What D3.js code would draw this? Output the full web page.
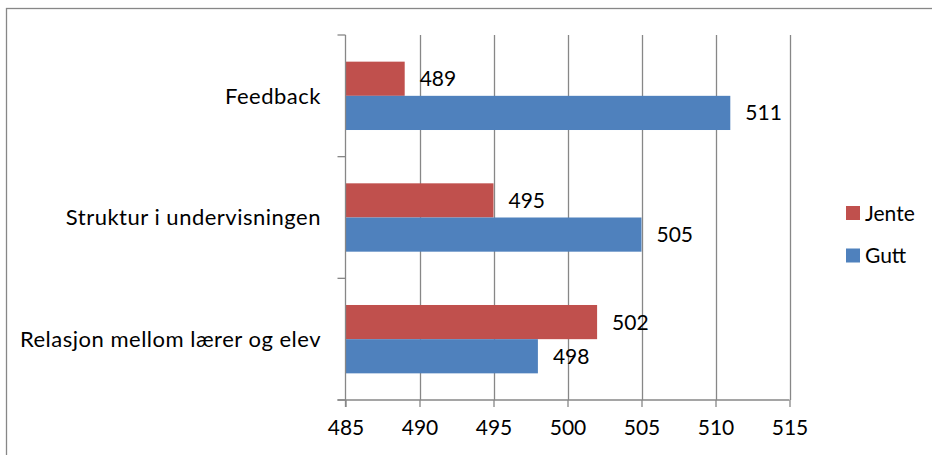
<!DOCTYPE html>
<html>
<head>
<meta charset="utf-8">
<script src="https://cdn.jsdelivr.net/npm/d3@7"></script>
<style>
  html, body { margin: 0; padding: 0; background: #fff; }
  svg { display: block; font-family: Lato, "Open Sans", sans-serif; }
</style>
</head>
<body>
<svg id="chart" width="932" height="455"></svg>
<script>
// Categories, top to bottom
const categories = ["Feedback", "Struktur i undervisningen", "Relasjon mellom lærer og elev"];
// Series (drawn in this order inside each category)
const seriesNames = ["Jente", "Gutt"];
const jente = [489, 495, 502];
const gutt = [511, 505, 498];
// Value axis ticks
const xTicks = [485, 490, 495, 500, 505, 510, 515];

const colors = { Jente: "#C0504D", Gutt: "#4F81BD" };
const values = { Jente: jente, Gutt: gutt };

const svg = d3.select("#chart");
const gridColor = "#878787";
const fontSize = 21;

// Chart area frame
svg.append("rect")
  .attr("x", 6.5).attr("y", 8.5)
  .attr("width", 1000).attr("height", 1000)
  .attr("fill", "none")
  .attr("stroke", gridColor)
  .attr("stroke-width", 1.3);

const plot = { left: 345.5, right: 789.5, top: 35, bottom: 400 };

const x = d3.scaleLinear()
  .domain([xTicks[0], xTicks[xTicks.length - 1]])
  .range([plot.left, plot.right]);

const y = d3.scaleBand()
  .domain(categories)
  .range([plot.top, plot.bottom])
  .paddingInner(0).paddingOuter(0);

const sub = d3.scaleBand()
  .domain(seriesNames)
  .range([0, y.bandwidth()])
  .paddingInner(0).paddingOuter(0.78);

// Vertical gridlines
svg.append("g")
  .selectAll("line")
  .data(xTicks.slice(1))
  .join("line")
  .attr("x1", d => Math.round(x(d)) + 0.5)
  .attr("x2", d => Math.round(x(d)) + 0.5)
  .attr("y1", plot.top)
  .attr("y2", plot.bottom)
  .attr("stroke", gridColor)
  .attr("stroke-width", 1.3);

// Bars
const rows = categories.map((c, i) => ({ cat: c, i }));
const barG = svg.append("g");
seriesNames.forEach(s => {
  barG.selectAll(null)
    .data(rows)
    .join("rect")
    .attr("x", x(xTicks[0]))
    .attr("y", d => y(d.cat) + sub(s))
    .attr("width", d => x(values[s][d.i]) - x(xTicks[0]))
    .attr("height", sub.bandwidth())
    .attr("fill", colors[s]);
});

// Value labels at bar ends
seriesNames.forEach(s => {
  svg.append("g")
    .selectAll("text")
    .data(rows)
    .join("text")
    .attr("x", d => x(values[s][d.i]) + 15)
    .attr("y", d => y(d.cat) + sub(s) + sub.bandwidth() / 2)
    .attr("dy", "0.36em")
    .attr("font-size", fontSize)
    .attr("fill", "#000")
    .text(d => values[s][d.i]);
});

// Value axis (bottom)
const xAxis = d3.axisBottom(x)
  .tickValues(xTicks)
  .tickSize(7)
  .tickPadding(13)
  .tickFormat(d3.format("d"));
const xg = svg.append("g")
  .attr("transform", `translate(0,${plot.bottom})`)
  .call(xAxis);
xg.select(".domain").remove();
xg.selectAll(".tick line").attr("stroke", gridColor).attr("stroke-width", 1.3);
xg.selectAll(".tick text")
  .attr("font-size", fontSize)
  .attr("font-family", "Lato, 'Open Sans', sans-serif")
  .attr("fill", "#000");

// Axis lines
svg.append("line")
  .attr("x1", plot.left - 8).attr("x2", plot.right)
  .attr("y1", plot.bottom).attr("y2", plot.bottom)
  .attr("stroke", gridColor).attr("stroke-width", 1.3);
svg.append("line")
  .attr("x1", plot.left).attr("x2", plot.left)
  .attr("y1", plot.top).attr("y2", plot.bottom + 7)
  .attr("stroke", gridColor).attr("stroke-width", 1.3);

// Category boundary ticks
const bounds = categories.map(c => y(c)).concat([plot.bottom]);
svg.append("g")
  .selectAll("line")
  .data(bounds)
  .join("line")
  .attr("x1", plot.left - 8).attr("x2", plot.left)
  .attr("y1", d => d).attr("y2", d => d)
  .attr("stroke", gridColor).attr("stroke-width", 1.3);

// Category labels
svg.append("g")
  .selectAll("text")
  .data(categories)
  .join("text")
  .attr("x", 321)
  .attr("y", d => y(d) + y.bandwidth() / 2)
  .attr("dy", "0.36em")
  .attr("text-anchor", "end")
  .attr("font-size", 22)
  .attr("letter-spacing", "0.5px")
  .attr("fill", "#000")
  .text(d => d);

// Legend
const legend = svg.append("g").attr("transform", "translate(846,206)");
const legendItems = legend.selectAll("g")
  .data(seriesNames)
  .join("g")
  .attr("transform", (d, i) => `translate(0,${i * 42.5})`);
legendItems.append("rect")
  .attr("width", 14).attr("height", 14)
  .attr("fill", d => colors[d]);
legendItems.append("text")
  .attr("x", 19)
  .attr("y", 7)
  .attr("dy", "0.36em")
  .attr("font-size", fontSize)
  .attr("fill", "#000")
  .text(d => d);
</script>
</body>
</html>
